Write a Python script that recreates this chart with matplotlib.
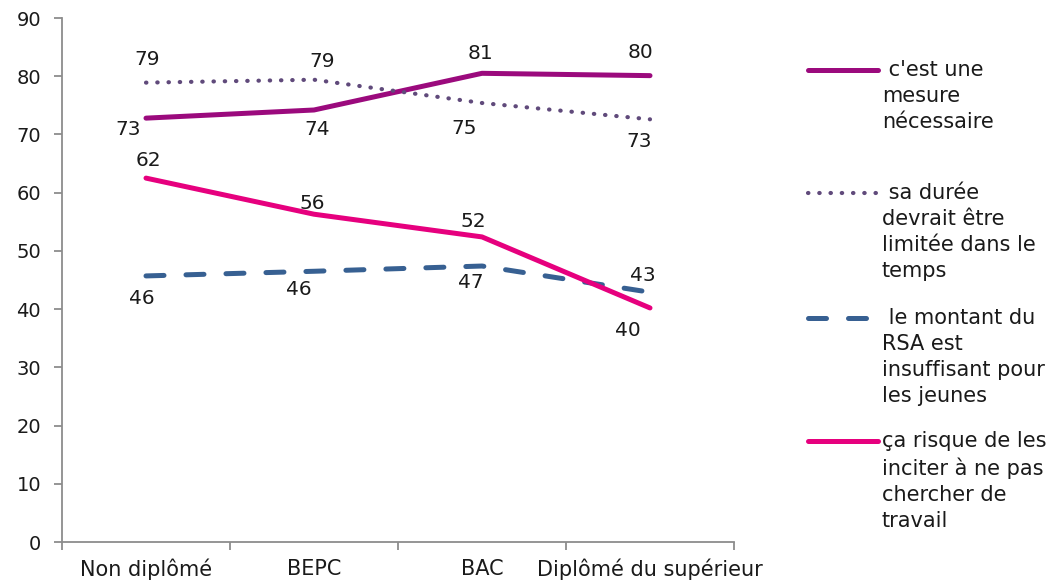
import matplotlib
matplotlib.use("Agg")
import matplotlib.pyplot as plt
from matplotlib.lines import Line2D

categories = ["Non diplômé", "BEPC", "BAC", "Diplômé du supérieur"]
series_names = [" c'est une\nmesure\nnécessaire",
                " sa durée\ndevrait être\nlimitée dans le\ntemps",
                " le montant du\nRSA est\ninsuffisant pour\nles jeunes",
                "ça risque de les\ninciter à ne pas\nchercher de\ntravail"]
necessaire = [72.8, 74.2, 80.5, 80.1]
duree = [78.9, 79.4, 75.4, 72.6]
montant = [45.7, 46.5, 47.4, 42.9]
risque = [62.5, 56.3, 52.4, 40.2]
labels_necessaire = ["73", "74", "81", "80"]
labels_duree = ["79", "79", "75", "73"]
labels_montant = ["46", "46", "47", "43"]
labels_risque = ["62", "56", "52", "40"]

series = [necessaire, duree, montant, risque]
series_labels = [labels_necessaire, labels_duree, labels_montant, labels_risque]
colors = ["#9B0A7D", "#604A7B", "#376092", "#E6007E"]
widths = [3.6, 3.0, 3.6, 3.6]
styles = [dict(linestyle="-"),
          dict(linestyle=(0, (0.1, 2.6)), dash_capstyle="round"),
          dict(linestyle=(0, (3.6, 4.4)), dash_capstyle="round"),
          dict(linestyle="-")]
# label offsets in points (dx, dy)
offsets = [
    [(-13, -8), (2, -14), (-1, 14), (-7, 17)],
    [(1, 17), (6, 13), (-13, -18), (-8, -16)],
    [(-3, -16), (-11, -13), (-8, -12), (-5, 12)],
    [(2, 13), (-1, 8), (-6, 11), (-16, -16)],
]

fig = plt.figure(figsize=(10.56, 5.82), dpi=100)
ax = fig.add_axes([62/1056, 1-542/582, (734-62)/1056, (542-18)/582])

x = list(range(len(categories)))
for i, (vals, labs) in enumerate(zip(series, series_labels)):
    ax.plot(x, vals, color=colors[i], lw=widths[i], solid_capstyle="round", **styles[i])
    for j, (xv, v, t) in enumerate(zip(x, vals, labs)):
        dx, dy = offsets[i][j]
        ax.annotate(t, (xv, v), xytext=(dx, dy), textcoords="offset points",
                    ha="center", va="center", fontsize=14.5, color="#1a1a1a",
                    family="DejaVu Sans")

ax.set_xlim(-0.5, len(categories) - 0.5)
ax.set_ylim(0, 90)
ax.set_yticks(range(0, 91, 10))
ax.set_xticks([k - 0.5 for k in range(len(categories) + 1)])
ax.set_xticklabels([])
ax.set_xticks(x, minor=True)
ax.set_xticklabels(categories, minor=True)
ax.tick_params(axis="x", which="minor", length=0, pad=12)
ax.tick_params(axis="x", which="major", length=6, width=1.3, color="#8c8c8c", direction="out")
ax.tick_params(axis="y", length=6, width=1.3, color="#8c8c8c", direction="out", pad=9)
for lab in ax.get_xticklabels(minor=True):
    lab.set_family("DejaVu Sans")
    lab.set_fontsize(15)
    lab.set_color("#1a1a1a")
for lab in ax.get_yticklabels():
    lab.set_family("DejaVu Sans")
    lab.set_fontsize(14)
    lab.set_color("#1a1a1a")
for s in ["top", "right"]:
    ax.spines[s].set_visible(False)
for s in ["left", "bottom"]:
    ax.spines[s].set_color("#8c8c8c")
    ax.spines[s].set_linewidth(1.3)

# manual legend
leg_y = [70, 193, 318, 441]
for i in range(4):
    yf = 1 - leg_y[i] / 582
    fig.add_artist(Line2D([808/1056, 878/1056], [yf, yf], color=colors[i], lw=widths[i],
                          solid_capstyle="round", transform=fig.transFigure, **styles[i]))
    fig.text(882/1056, yf + 10/582, series_names[i], ha="left", va="top",
             fontsize=15, linespacing=1.38, color="#1a1a1a", family="DejaVu Sans")

fig.savefig("out.png", dpi=100)
